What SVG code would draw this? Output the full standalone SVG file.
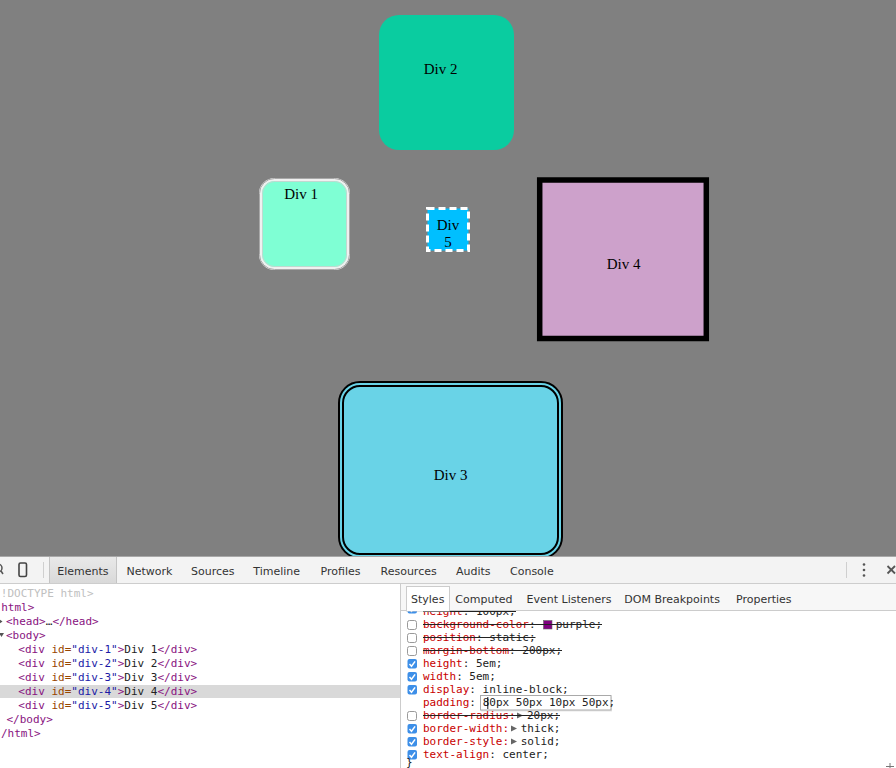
<svg xmlns="http://www.w3.org/2000/svg" width="896" height="768" viewBox="0 0 896 768">
<defs>
<style>
.lbl{font-family:"Liberation Serif","Times New Roman",serif;font-size:15px;fill:#000;text-anchor:middle}
.ui{font-family:"DejaVu Sans","Noto Sans",sans-serif;font-size:11px;fill:#333}
.mono{font-family:"DejaVu Sans Mono","Liberation Mono",monospace;font-size:11px}
.tag{fill:#881280}.an{fill:#994500}.av{fill:#1a1aa6}.tx{fill:#222}
.p{fill:#c80000}.v{fill:#222}
.strike{stroke:#222;stroke-width:1}
.cbon{fill:#3d8fe8}
.cboff{fill:#fff;stroke:#9a9a9a;stroke-width:1}
.chk{fill:none;stroke:#fff;stroke-width:1.5}
.tri{fill:#666}
</style>
<linearGradient id="tabsel" x1="0" y1="0" x2="0" y2="1">
<stop offset="0" stop-color="#e9e9e9"/>
<stop offset="1" stop-color="#d9d9d9"/>
</linearGradient>
<g id="cbOn"><rect x="0" y="0" width="9.5" height="9.5" rx="2" class="cbon"/><polyline points="2,5 4,7.2 7.6,2.4" class="chk"/></g>
<g id="cbOff"><rect x="0.5" y="0.5" width="9" height="9" rx="2" class="cboff"/></g>
</defs>
<rect x="0" y="0" width="896" height="768" fill="#808080"/>

<g id="div2">
<rect x="379" y="15" width="135" height="135" rx="20" fill="#0acca0"/>
<text class="lbl" x="440.5" y="73.5">Div 2</text>
</g>

<g id="div1">
<rect x="260.5" y="179.5" width="88" height="89" rx="14" fill="#7fffd4" stroke="#f0f0f0" stroke-width="3"/>
<rect x="259.5" y="178.5" width="90" height="91" rx="15" fill="none" stroke="#a9a9a9" stroke-width="1"/>
<rect x="262.5" y="181.5" width="84" height="85" rx="12" fill="none" stroke="#cfcfcf" stroke-width="0.8"/>
<text class="lbl" x="301" y="198.5">Div 1</text>
</g>

<g id="div5">
<rect x="427.5" y="208.5" width="41" height="42" fill="#00bfff" stroke="#fff" stroke-width="3" stroke-dasharray="7 4"/>
<text class="lbl" x="448" y="229.5">Div</text>
<text class="lbl" x="448" y="246.5">5</text>
</g>

<g id="div4">
<rect x="539.7" y="180" width="166.6" height="158.5" fill="#cda1cb" stroke="#000" stroke-width="5.5"/>
<text class="lbl" x="623.5" y="268.5">Div 4</text>
</g>

<g id="div3">
<rect x="339" y="382" width="223" height="176" rx="21" fill="#69d3e7" stroke="#000" stroke-width="2"/>
<rect x="343" y="386" width="215" height="168" rx="17" fill="none" stroke="#000" stroke-width="2"/>
<text class="lbl" x="450.5" y="480">Div 3</text>
</g>

<g id="devtools">
<rect x="0" y="556" width="896" height="212" fill="#fff"/>
<!-- toolbar -->
<rect x="0" y="556" width="896" height="27" fill="#f3f3f3"/>
<line x1="0" y1="556.5" x2="896" y2="556.5" stroke="#a8a8a8"/>
<line x1="0" y1="583.5" x2="896" y2="583.5" stroke="#cdcdcd"/>
<circle cx="-2" cy="568" r="4" fill="none" stroke="#555" stroke-width="1.5"/>
<line x1="1" y1="571" x2="3" y2="574" stroke="#555" stroke-width="1.5"/>
<rect x="19" y="563" width="7.5" height="13.5" rx="1.5" fill="none" stroke="#444" stroke-width="1.6"/>
<line x1="43.5" y1="562" x2="43.5" y2="578" stroke="#cfcfcf"/>
<rect x="49" y="557" width="68" height="26" fill="url(#tabsel)"/>
<line x1="49.5" y1="557" x2="49.5" y2="583" stroke="#c4c4c4"/>
<line x1="116.5" y1="557" x2="116.5" y2="583" stroke="#c4c4c4"/>
<text class="ui" x="57.3" y="575">Elements</text>
<text class="ui" x="126.5" y="575">Network</text>
<text class="ui" x="191" y="575">Sources</text>
<text class="ui" x="253.3" y="575">Timeline</text>
<text class="ui" x="320.5" y="575">Profiles</text>
<text class="ui" x="380.5" y="575">Resources</text>
<text class="ui" x="456" y="575">Audits</text>
<text class="ui" x="510" y="575">Console</text>
<line x1="846.5" y1="562" x2="846.5" y2="578" stroke="#cfcfcf"/>
<circle cx="864" cy="564.5" r="1.3" fill="#555"/>
<circle cx="864" cy="570" r="1.3" fill="#555"/>
<circle cx="864" cy="575.5" r="1.3" fill="#555"/>
<line x1="887.5" y1="566" x2="895" y2="573.5" stroke="#555" stroke-width="1.8"/>
<line x1="895" y1="566" x2="887.5" y2="573.5" stroke="#555" stroke-width="1.8"/>

<!-- elements tree -->
<rect x="0" y="685" width="400" height="13" fill="#d9d9d9"/>
<text class="mono" x="0.8" y="597" fill="#c0c0c0">!DOCTYPE html&gt;</text>
<text class="mono tag" x="1.2" y="611">html&gt;</text>
<polygon points="-1,619 2.5,621.5 -1,624" fill="#555"/>
<text class="mono" x="6" y="625"><tspan class="tag">&lt;head&gt;</tspan><tspan class="tx">…</tspan><tspan class="tag">&lt;/head&gt;</tspan></text>
<polygon points="-1,633 4,633 1.5,637" fill="#555"/>
<text class="mono tag" x="6" y="639">&lt;body&gt;</text>
<text class="mono" x="18.3" y="653"><tspan class="tag">&lt;div </tspan><tspan class="an">id=</tspan><tspan class="av">&quot;div-1&quot;</tspan><tspan class="tag">&gt;</tspan><tspan class="tx">Div 1</tspan><tspan class="tag">&lt;/div&gt;</tspan></text>
<text class="mono" x="18.3" y="667"><tspan class="tag">&lt;div </tspan><tspan class="an">id=</tspan><tspan class="av">&quot;div-2&quot;</tspan><tspan class="tag">&gt;</tspan><tspan class="tx">Div 2</tspan><tspan class="tag">&lt;/div&gt;</tspan></text>
<text class="mono" x="18.3" y="681"><tspan class="tag">&lt;div </tspan><tspan class="an">id=</tspan><tspan class="av">&quot;div-3&quot;</tspan><tspan class="tag">&gt;</tspan><tspan class="tx">Div 3</tspan><tspan class="tag">&lt;/div&gt;</tspan></text>
<text class="mono" x="18.3" y="695"><tspan class="tag">&lt;div </tspan><tspan class="an">id=</tspan><tspan class="av">&quot;div-4&quot;</tspan><tspan class="tag">&gt;</tspan><tspan class="tx">Div 4</tspan><tspan class="tag">&lt;/div&gt;</tspan></text>
<text class="mono" x="18.3" y="709"><tspan class="tag">&lt;div </tspan><tspan class="an">id=</tspan><tspan class="av">&quot;div-5&quot;</tspan><tspan class="tag">&gt;</tspan><tspan class="tx">Div 5</tspan><tspan class="tag">&lt;/div&gt;</tspan></text>
<text class="mono tag" x="6.5" y="723">&lt;/body&gt;</text>
<text class="mono tag" x="1" y="737">/html&gt;</text>

<line x1="400.5" y1="583" x2="400.5" y2="768" stroke="#cccccc"/>

<!-- styles rows -->
<use href="#cbOn" x="407.5" y="604"/>
<text class="mono" x="423" y="615"><tspan class="p">height</tspan><tspan class="v">: 100px;</tspan></text>
<line class="strike" x1="423" y1="611.5" x2="516" y2="611.5"/>

<use href="#cbOff" x="407" y="620"/>
<text class="mono" x="423" y="628"><tspan class="p">background-color</tspan><tspan class="v">:</tspan></text>
<rect x="543.5" y="620.5" width="8.5" height="8.5" fill="#800080" stroke="#666" stroke-width="0.6"/>
<text class="mono v" x="555.7" y="628">purple;</text>
<line class="strike" x1="423" y1="624.5" x2="602" y2="624.5"/>

<use href="#cbOff" x="407" y="633"/>
<text class="mono" x="423" y="641"><tspan class="p">position</tspan><tspan class="v">: static;</tspan></text>
<line class="strike" x1="423" y1="637.5" x2="535.5" y2="637.5"/>

<use href="#cbOff" x="407" y="646"/>
<text class="mono" x="423" y="654"><tspan class="p">margin-bottom</tspan><tspan class="v">: 200px;</tspan></text>
<line class="strike" x1="423" y1="650.5" x2="562" y2="650.5"/>

<use href="#cbOn" x="407.5" y="659"/>
<text class="mono" x="423" y="667"><tspan class="p">height</tspan><tspan class="v">: 5em;</tspan></text>

<use href="#cbOn" x="407.5" y="672"/>
<text class="mono" x="423" y="680"><tspan class="p">width</tspan><tspan class="v">: 5em;</tspan></text>

<use href="#cbOn" x="407.5" y="685"/>
<text class="mono" x="423" y="693"><tspan class="p">display</tspan><tspan class="v">: inline-block;</tspan></text>

<text class="mono" x="423" y="706"><tspan class="p">padding</tspan><tspan class="v">:</tspan></text>
<rect x="481" y="696.5" width="131" height="15" fill="#d8d8d8" opacity="0.6"/>
<rect x="480.5" y="695.5" width="130.5" height="14.5" fill="#fff" stroke="#a9a9a9"/>
<text class="mono v" x="482.7" y="706">80px 50px 10px 50px;</text>
<line x1="487.8" y1="697" x2="487.8" y2="709" stroke="#000" stroke-width="0.9"/>

<use href="#cbOff" x="407" y="711"/>
<text class="mono p" x="423" y="719">border-radius:</text>
<polygon class="tri" points="517,712.5 523,715.5 517,718.5"/>
<text class="mono v" x="527" y="719">20px;</text>
<line class="strike" x1="423" y1="715.5" x2="560" y2="715.5"/>

<use href="#cbOn" x="407.5" y="724"/>
<text class="mono p" x="423" y="732">border-width:</text>
<polygon class="tri" points="511,725.5 517,728.5 511,731.5"/>
<text class="mono v" x="520.7" y="732">thick;</text>

<use href="#cbOn" x="407.5" y="737"/>
<text class="mono p" x="423" y="745">border-style:</text>
<polygon class="tri" points="511,738.5 517,741.5 511,744.5"/>
<text class="mono v" x="520.7" y="745">solid;</text>

<use href="#cbOn" x="407.5" y="750"/>
<text class="mono" x="423" y="758"><tspan class="p">text-align</tspan><tspan class="v">: center;</tspan></text>

<text class="mono v" x="406" y="766" font-size="10">}</text>
<line x1="886" y1="766.5" x2="894" y2="766.5" stroke="#777"/>
<line x1="890" y1="763" x2="890" y2="768" stroke="#777"/>

<!-- sidebar tabs (drawn over first row) -->
<rect x="401" y="584" width="495" height="26.5" fill="#f7f7f7"/>
<line x1="401" y1="610.5" x2="896" y2="610.5" stroke="#cccccc"/>
<rect x="406.5" y="586.5" width="43" height="24.5" fill="#fff" stroke="#cccccc"/>
<line x1="407" y1="610.5" x2="449" y2="610.5" stroke="#fff"/>
<text class="ui" x="411" y="603">Styles</text>
<text class="ui" x="455.3" y="603">Computed</text>
<text class="ui" x="526.5" y="603">Event Listeners</text>
<text class="ui" x="624.3" y="603">DOM Breakpoints</text>
<text class="ui" x="736" y="603">Properties</text>
</g>
</svg>
